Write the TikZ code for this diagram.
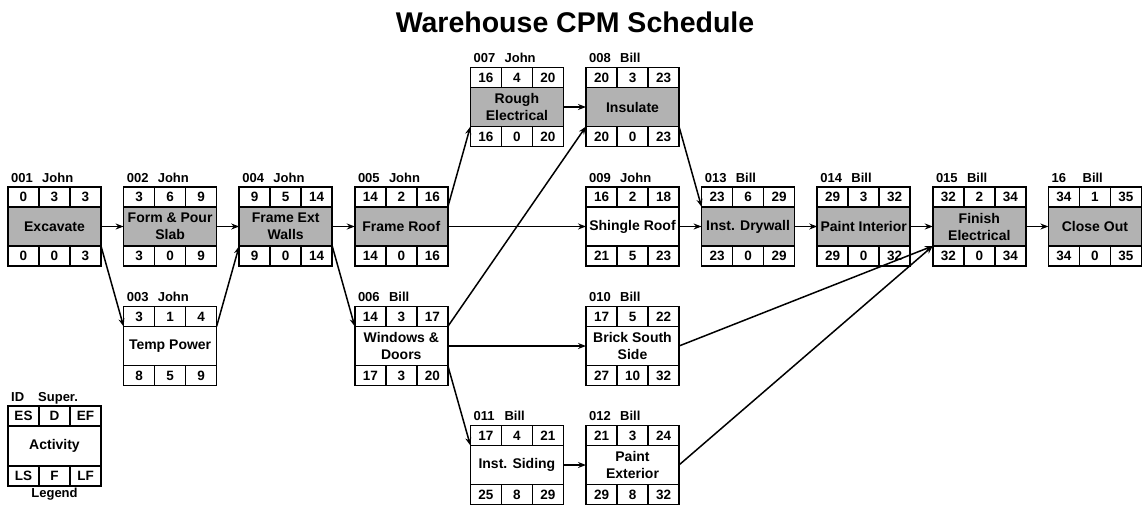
\documentclass[tikz,border=0pt]{standalone}
\usepackage{fontspec}
\setmainfont{Liberation Sans}
\usetikzlibrary{arrows.meta,positioning}
\definecolor{Crit}{HTML}{B2B2B2}

\begin{document}
\begin{tikzpicture}[x=1pt,y=-1pt,
    act/.style={draw,line width=1.5pt,outer sep=0pt,minimum width=93pt,minimum height=39pt,inner sep=1pt,align=center,font=\bfseries\fontsize{14}{17}\selectfont},
    cell/.style={draw,line width=1.5pt,outer sep=0pt,fill=white,minimum width=31pt,minimum height=20pt,inner sep=0pt,text height=9.5pt,text depth=0pt,font=\bfseries\fontsize{13.5}{15}\selectfont},
    lbl/.style={anchor=base west,inner sep=0pt,font=\bfseries\fontsize{13}{15}\selectfont},
    a/.style={-{Stealth[length=8pt,width=6pt]},line width=1.5pt}]
  \useasboundingbox (0,0) rectangle (1142,506);
  \node[font=\bfseries\fontsize{28.5}{32}\selectfont] (title) at (575,22) {Warehouse CPM Schedule};
  % activity boxes: name/x/y/id/super/activity/ES/D/EF/LS/F/LF/fill
  \foreach \n/\x/\y/\id/\who/\act/\es/\du/\ef/\ls/\fl/\lf/\fc in {
      a001/54.5/226.5/001/John/Excavate/0/3/3/0/0/3/Crit,
      a002/170.1/226.5/002/John/{Form \& Pour\\Slab}/3/6/9/3/0/9/Crit,
      a003/170.1/346/003/John/Temp Power/3/1/4/8/5/9/white,
      a004/285.7/226.5/004/John/{Frame Ext\\Walls}/9/5/14/9/0/14/Crit,
      a005/401.3/226.5/005/John/Frame Roof/14/2/16/14/0/16/Crit,
      a006/401.3/346/006/Bill/{Windows \&\\Doors}/14/3/17/17/3/20/white,
      a007/516.9/107/007/John/{Rough\\Electrical}/16/4/20/16/0/20/Crit,
      a008/632.5/107/008/Bill/Insulate/20/3/23/20/0/23/Crit,
      a009/632.5/226.5/009/John/Shingle Roof/16/2/18/21/5/23/white,
      a010/632.5/346/010/Bill/{Brick South\\Side}/17/5/22/27/10/32/white,
      a011/516.9/465/011/Bill/Inst. Siding/17/4/21/25/8/29/white,
      a012/632.5/465/012/Bill/{Paint\\Exterior}/21/3/24/29/8/32/white,
      a013/748.1/226.5/013/Bill/Inst. Drywall/23/6/29/23/0/29/Crit,
      a014/863.7/226.5/014/Bill/Paint Interior/29/3/32/29/0/32/Crit,
      a015/979.3/226.5/015/Bill/{Finish\\Electrical}/32/2/34/32/0/34/Crit,
      a16/1094.9/226.5/16/Bill/Close Out/34/1/35/34/0/35/Crit} {
    \node[act,fill=\fc] (\n) at (\x,\y) {\act};
    \node[cell,anchor=south west] (\n-es) at (\n.north west) {\es};
    \node[cell,right=0pt of \n-es] (\n-d) {\du};
    \node[cell,right=0pt of \n-d] (\n-ef) {\ef};
    \node[cell,anchor=north west] (\n-ls) at (\n.south west) {\ls};
    \node[cell,right=0pt of \n-ls] (\n-f) {\fl};
    \node[cell,right=0pt of \n-f] (\n-lf) {\lf};
    \node[lbl] (\n-id) at ([xshift=3pt,yshift=5pt]\n-es.north west) {\id};
    \node[lbl] (\n-who) at ([xshift=34pt,yshift=5pt]\n-es.north west) {\who};
  }
  % legend
  \node[act,minimum height=40pt] (lg) at (54.5,446) {Activity};
  \node[cell,anchor=south west] (lg-es) at (lg.north west) {ES};
  \node[cell,right=0pt of lg-es] (lg-d) {D};
  \node[cell,right=0pt of lg-d] (lg-ef) {EF};
  \node[cell,anchor=north west] (lg-ls) at (lg.south west) {LS};
  \node[cell,right=0pt of lg-ls] (lg-f) {F};
  \node[cell,right=0pt of lg-f] (lg-lf) {LF};
  \node[lbl] (lg-id) at ([xshift=3pt,yshift=5pt]lg-es.north west) {ID};
  \node[lbl] (lg-who) at ([xshift=30pt,yshift=5pt]lg-es.north west) {Super.};
  \node[below=2pt of lg-f,inner sep=0pt,font=\bfseries\fontsize{13}{15}\selectfont] (lg-name) {Legend};
  % precedence links
  \draw[a] (a001) -- (a002);
  \draw[a] (a001.south east) -- (a003.north west);
  \draw[a] (a002) -- (a004);
  \draw[a] (a003.north east) -- (a004.south west);
  \draw[a] (a004) -- (a005);
  \draw[a] (a004.south east) -- (a006.north west);
  \draw[a] (a005.north east) -- (a007.south west);
  \draw[a] (a005) -- (a009);
  \draw[a] (a006.north east) -- (a008.south west);
  \draw[a] (a006) -- (a010);
  \draw[a] (a006.south east) -- (a011.north west);
  \draw[a] (a007) -- (a008);
  \draw[a] (a008.south east) -- (a013.north west);
  \draw[a] (a009) -- (a013);
  \draw[a] (a010.east) -- (a015.south west);
  \draw[a] (a011) -- (a012);
  \draw[a] (a012.east) -- (a015.south west);
  \draw[a] (a013) -- (a014);
  \draw[a] (a014) -- (a015);
  \draw[a] (a015) -- (a16);
\end{tikzpicture}
\end{document}
